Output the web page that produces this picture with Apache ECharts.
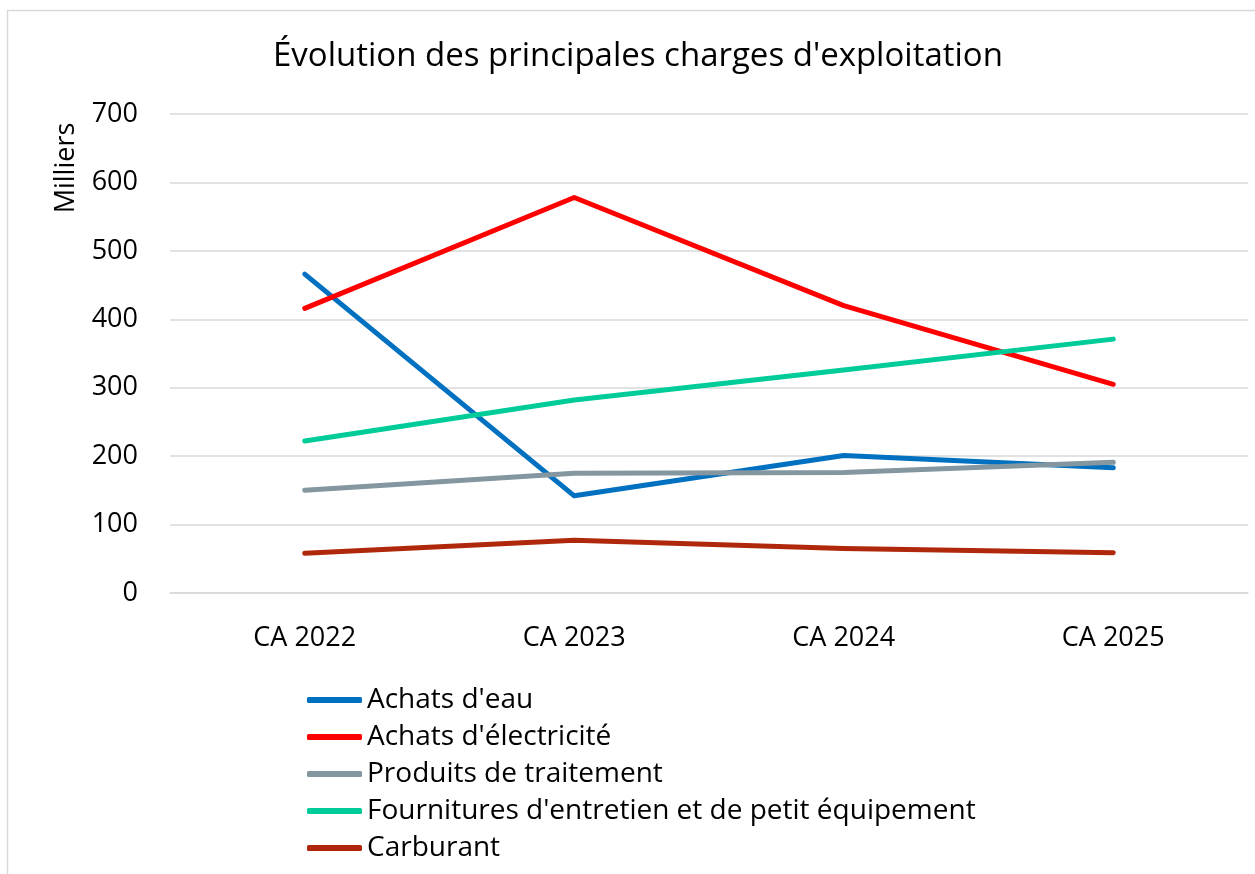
<!DOCTYPE html>
<html>
<head>
<meta charset="utf-8">
<script src="https://cdn.jsdelivr.net/npm/echarts@6/dist/echarts.min.js"></script>
<style>
  html, body { margin: 0; padding: 0; background: #fff; }
  #chart { width: 1255px; height: 874px; }
</style>
</head>
<body>
<div id="chart"></div>
<script>
// Operating charges by year (thousands)
const categories = ['CA 2022', 'CA 2023', 'CA 2024', 'CA 2025'];
const achatsEau = [466, 142, 201, 183];
const achatsElectricite = [416, 578, 420, 305];
const produitsTraitement = [150, 175, 176, 191];
const fournitures = [222, 282, 326, 371];
const carburant = [58, 77, 65, 59];
const yTicks = [0, 100, 200, 300, 400, 500, 600, 700];

const seriesDefs = [
  { name: "Achats d'eau", data: achatsEau, color: '#0070C0' },
  { name: "Achats d'électricité", data: achatsElectricite, color: '#FF0000' },
  { name: 'Produits de traitement', data: produitsTraitement, color: '#8496A0' },
  { name: "Fournitures d'entretien et de petit équipement", data: fournitures, color: '#00CC99' },
  { name: 'Carburant', data: carburant, color: '#B0280C' }
];

const font = '"Open Sans", Lato, sans-serif';
const chart = echarts.init(document.getElementById('chart'), null, { renderer: 'canvas' });

chart.setOption({
  backgroundColor: '#fff',
  animation: false,
  textStyle: { fontFamily: font },
  title: {
    text: "Évolution des principales charges d'exploitation",
    left: 268,
    top: 35,
    textStyle: { fontFamily: font, fontSize: 33, fontWeight: 'normal', color: '#000' }
  },
  graphic: [
    {
      type: 'rect',
      shape: { x: 7.5, y: 10.5, width: 1260, height: 880 },
      style: { fill: 'none', stroke: '#d9d9d9', lineWidth: 1.5 },
      silent: true
    },
    {
      // vertical unit label
      type: 'text',
      x: 66,
      y: 168,
      rotation: Math.PI / 2,
      style: {
        text: 'Milliers',
        fontFamily: font,
        fontSize: 27,
        fill: '#000',
        align: 'center',
        verticalAlign: 'middle'
      },
      silent: true
    }
  ],
  grid: { left: 170, right: 7, top: 114, bottom: 281, containLabel: false },
  legend: {
    orient: 'vertical',
    left: 302,
    top: 681,
    itemWidth: 55,
    itemHeight: 6,
    itemGap: 9,
    icon: 'roundRect',
    textStyle: { fontFamily: font, fontSize: 28, lineHeight: 28, color: '#000' },
    data: seriesDefs.map(s => s.name)
  },
  xAxis: {
    type: 'category',
    data: categories,
    boundaryGap: true,
    axisLine: { show: true, lineStyle: { color: '#d9d9d9', width: 1.5 } },
    axisTick: { show: false },
    axisLabel: { fontFamily: font, fontSize: 27, color: '#000', margin: 32 }
  },
  yAxis: {
    type: 'value',
    min: yTicks[0],
    max: yTicks[yTicks.length - 1],
    interval: 100,
    axisLine: { show: false },
    axisTick: { show: false },
    splitLine: { lineStyle: { color: '#d9d9d9', width: 1.5 } },
    axisLabel: { fontFamily: font, fontSize: 27, color: '#000', margin: 32 }
  },
  series: seriesDefs.map(s => ({
    name: s.name,
    type: 'line',
    data: s.data,
    showSymbol: false,
    symbol: 'none',
    color: s.color,
    lineStyle: { color: s.color, width: 5, cap: 'round', join: 'round' },
    itemStyle: { color: s.color }
  }))
});
</script>
</body>
</html>
